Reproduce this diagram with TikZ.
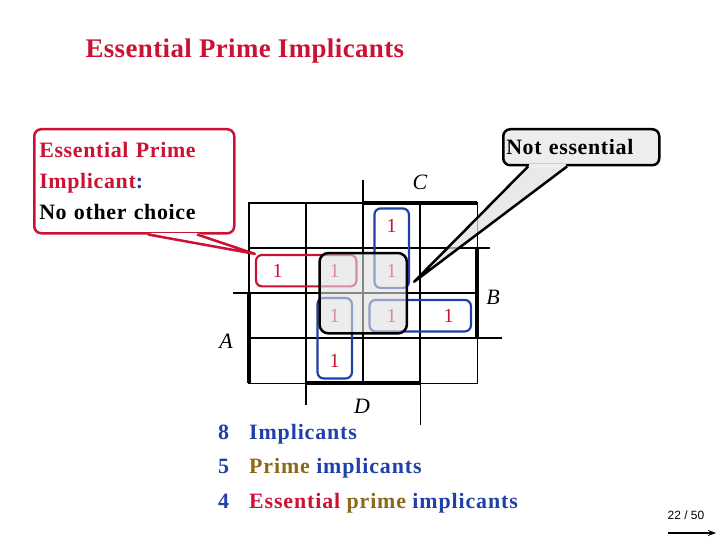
\documentclass[tikz,border=0pt]{standalone}
\usepackage{fontspec}
\setmainfont{Liberation Serif}
\setsansfont{Liberation Sans}
\newfontfamily\widefont[LetterSpace=4]{Liberation Serif}
\newfontfamily\callfont[LetterSpace=3]{Liberation Serif}
\newfontfamily\titlefont[LetterSpace=1.5]{Liberation Serif}
\usetikzlibrary{arrows.meta, positioning}
\usetikzlibrary{matrix, fit, calc}
\usepackage{xcolor}
\definecolor{eprred}{RGB}{204,18,52}
\definecolor{eprblue}{RGB}{32,64,168}
\definecolor{eprbrown}{RGB}{140,104,24}

\tikzset{
    thinline/.style={line width=1.5bp},
    boldline/.style={line width=4bp},
    grp/.style={draw, rounded corners=6bp, line width=2.2bp},
    varlbl/.style={font=\fontsize{22}{22}\selectfont\itshape, inner sep=0pt}
}

\begin{document}
\begin{tikzpicture}[x=1bp, y=-1bp,
    callbox/.style={rounded corners=7bp, line width=2.5bp, inner sep=6bp},
    listcell/.style={font=\widefont\fontsize{22}{22}\selectfont\bfseries,
        text=eprblue, inner sep=0pt, anchor=base west,
        text height=15bp, text depth=5bp}]
    \useasboundingbox (0,0) rectangle (720,540);

    % title
    \node[anchor=west, text=eprred, font=\titlefont\fontsize{27}{27}\selectfont\bfseries]
        (title) at (82,51) {Essential Prime Implicants};

    % the map
    \matrix (km) [matrix of nodes,
        nodes in empty cells,
        anchor=north west, inner sep=0pt, column sep=0pt, row sep=0pt,
        nodes={anchor=center, minimum width=57bp, minimum height=45bp, inner sep=0pt,
            text=eprred, font=\fontsize{20}{20}\selectfont}
    ] at (249,203)
    {
          &   & 1 &   \\
        1 & 1 & 1 &   \\
          & 1 & 1 & 1 \\
          & 1 &   &   \\
    };

    \draw[thinline] (km-1-1.north west) rectangle (km-4-4.south east);
    \foreach \c in {2,3,4}
        \draw[thinline] (km-1-\c.north west) -- (km-4-\c.south west);
    \foreach \r in {2,3,4}
        \draw[thinline] (km-\r-1.north west) -- (km-\r-4.north east);
    \draw[boldline] (km-1-3.north west) -- (km-1-4.north east);
    \draw[boldline] (km-2-4.north east) -- (km-3-4.south east);
    \draw[boldline] (km-3-1.north west) -- (km-4-1.south west);
    \draw[boldline] (km-4-2.south west) -- (km-4-3.south east);
    % longer lines
    \draw[thinline] (km-1-3.north west) -- ++(0,-23);
    \draw[thinline] (km-2-4.north east) -- ++(13,0);
    \draw[thinline] (km-3-1.north west) -- ++(-16,0);
    \draw[thinline] (km-4-4.north east) -- ++(25,0);
    \draw[thinline] (km-4-2.south west) -- ++(0,22);
    \draw[thinline] (km-4-3.south east) -- ++(0,42);

    \node[varlbl] (lblC) at (420,182) {C};
    \node[varlbl] (lblB) at (493,297) {B};
    \node[varlbl] (lblA) at (226,341) {A};
    \node[varlbl] (lblD) at (362,406) {D};

    % implicants
    \node[grp, draw=eprred, fit=(km-2-1)(km-2-2), inner xsep=-7bp, inner ysep=-7bp] (grpred) {};
    \node[grp, draw=eprblue, fit=(km-1-3)(km-2-3), inner xsep=-11.5bp, inner ysep=-5.5bp] (grptop) {};
    \node[grp, draw=eprblue, fit=(km-3-3)(km-3-4), inner xsep=-6.5bp, inner ysep=-7bp] (grpright) {};
    \node[grp, draw=eprblue, fit=(km-3-2)(km-4-2), inner xsep=-11.5bp, inner ysep=-5bp] (grpdown) {};
    \node[draw=black, line width=2.5bp, rounded corners=9bp, fill=black!12, fill opacity=0.6,
        fit=(km-2-2)(km-3-3), inner xsep=-13.5bp, inner ysep=-5bp] (grpquad) {};
    \coordinate (netip) at ($(grpquad.north east)+(6,30)$);

    % callouts
    \node[callbox, draw=eprred, fill=white, anchor=north west, minimum width=200bp,
        minimum height=104bp, text width=190bp, inner sep=5bp, align=left,
        font=\callfont\fontsize{22}{31}\selectfont\bfseries] (epibox) at (33,128)
        {\textcolor{eprred}{Essential Prime\\Implicant}\textcolor{eprblue}{:}\\No other choice};
    \fill[white] ($(epibox.south west)+(115,-1.5)$) -- (grpred.north west)
        -- ($(epibox.south west)+(164,-1.5)$) -- cycle;
    \draw[eprred, line width=2.5bp, line join=round] ($(epibox.south west)+(115,0)$)
        -- (grpred.north west) -- ($(epibox.south west)+(164,0)$);

    \node[callbox, draw=black, fill=black!7, anchor=north west, minimum width=156bp,
        minimum height=36bp, text width=150bp, inner sep=3bp, align=left,
        font=\callfont\fontsize{22}{22}\selectfont\bfseries] (nebox) at (502,128) {Not essential};
    \fill[black!12, fill opacity=0.7] ($(nebox.south west)+(26,1.2)$) -- (netip)
        -- ($(nebox.south west)+(65,1.2)$) -- cycle;
    \fill[black!7] ($(nebox.south west)+(27,-2)$) rectangle ($(nebox.south west)+(64,1.3)$);
    \draw[line width=2.5bp, line join=round] ($(nebox.south west)+(26,0)$)
        -- (netip) -- ($(nebox.south west)+(65,0)$);

    % counts
    \matrix (cnt) [matrix of nodes, anchor=north west, inner sep=0pt,
        column sep=0pt, row sep=14.5bp,
        nodes={listcell},
        column 1/.style={nodes={text width=31bp}}
    ] at (218,424)
    {
        8 & Implicants \\
        5 & \textcolor{eprbrown}{Prime} implicants \\
        4 & \textcolor{eprred}{Essential} \textcolor{eprbrown}{prime} implicants \\
    };

    % page number
    \node[font=\sffamily\fontsize{12}{12}\selectfont] (pgnum) at (686,515) {22 / 50};
    \coordinate (navl) at (668,533);
    \coordinate (navr) at (716,533);
    \draw[-{Stealth[length=8bp,width=6bp]}, line width=1.6bp] (navl) -- (navr);

\end{tikzpicture}
\end{document}
